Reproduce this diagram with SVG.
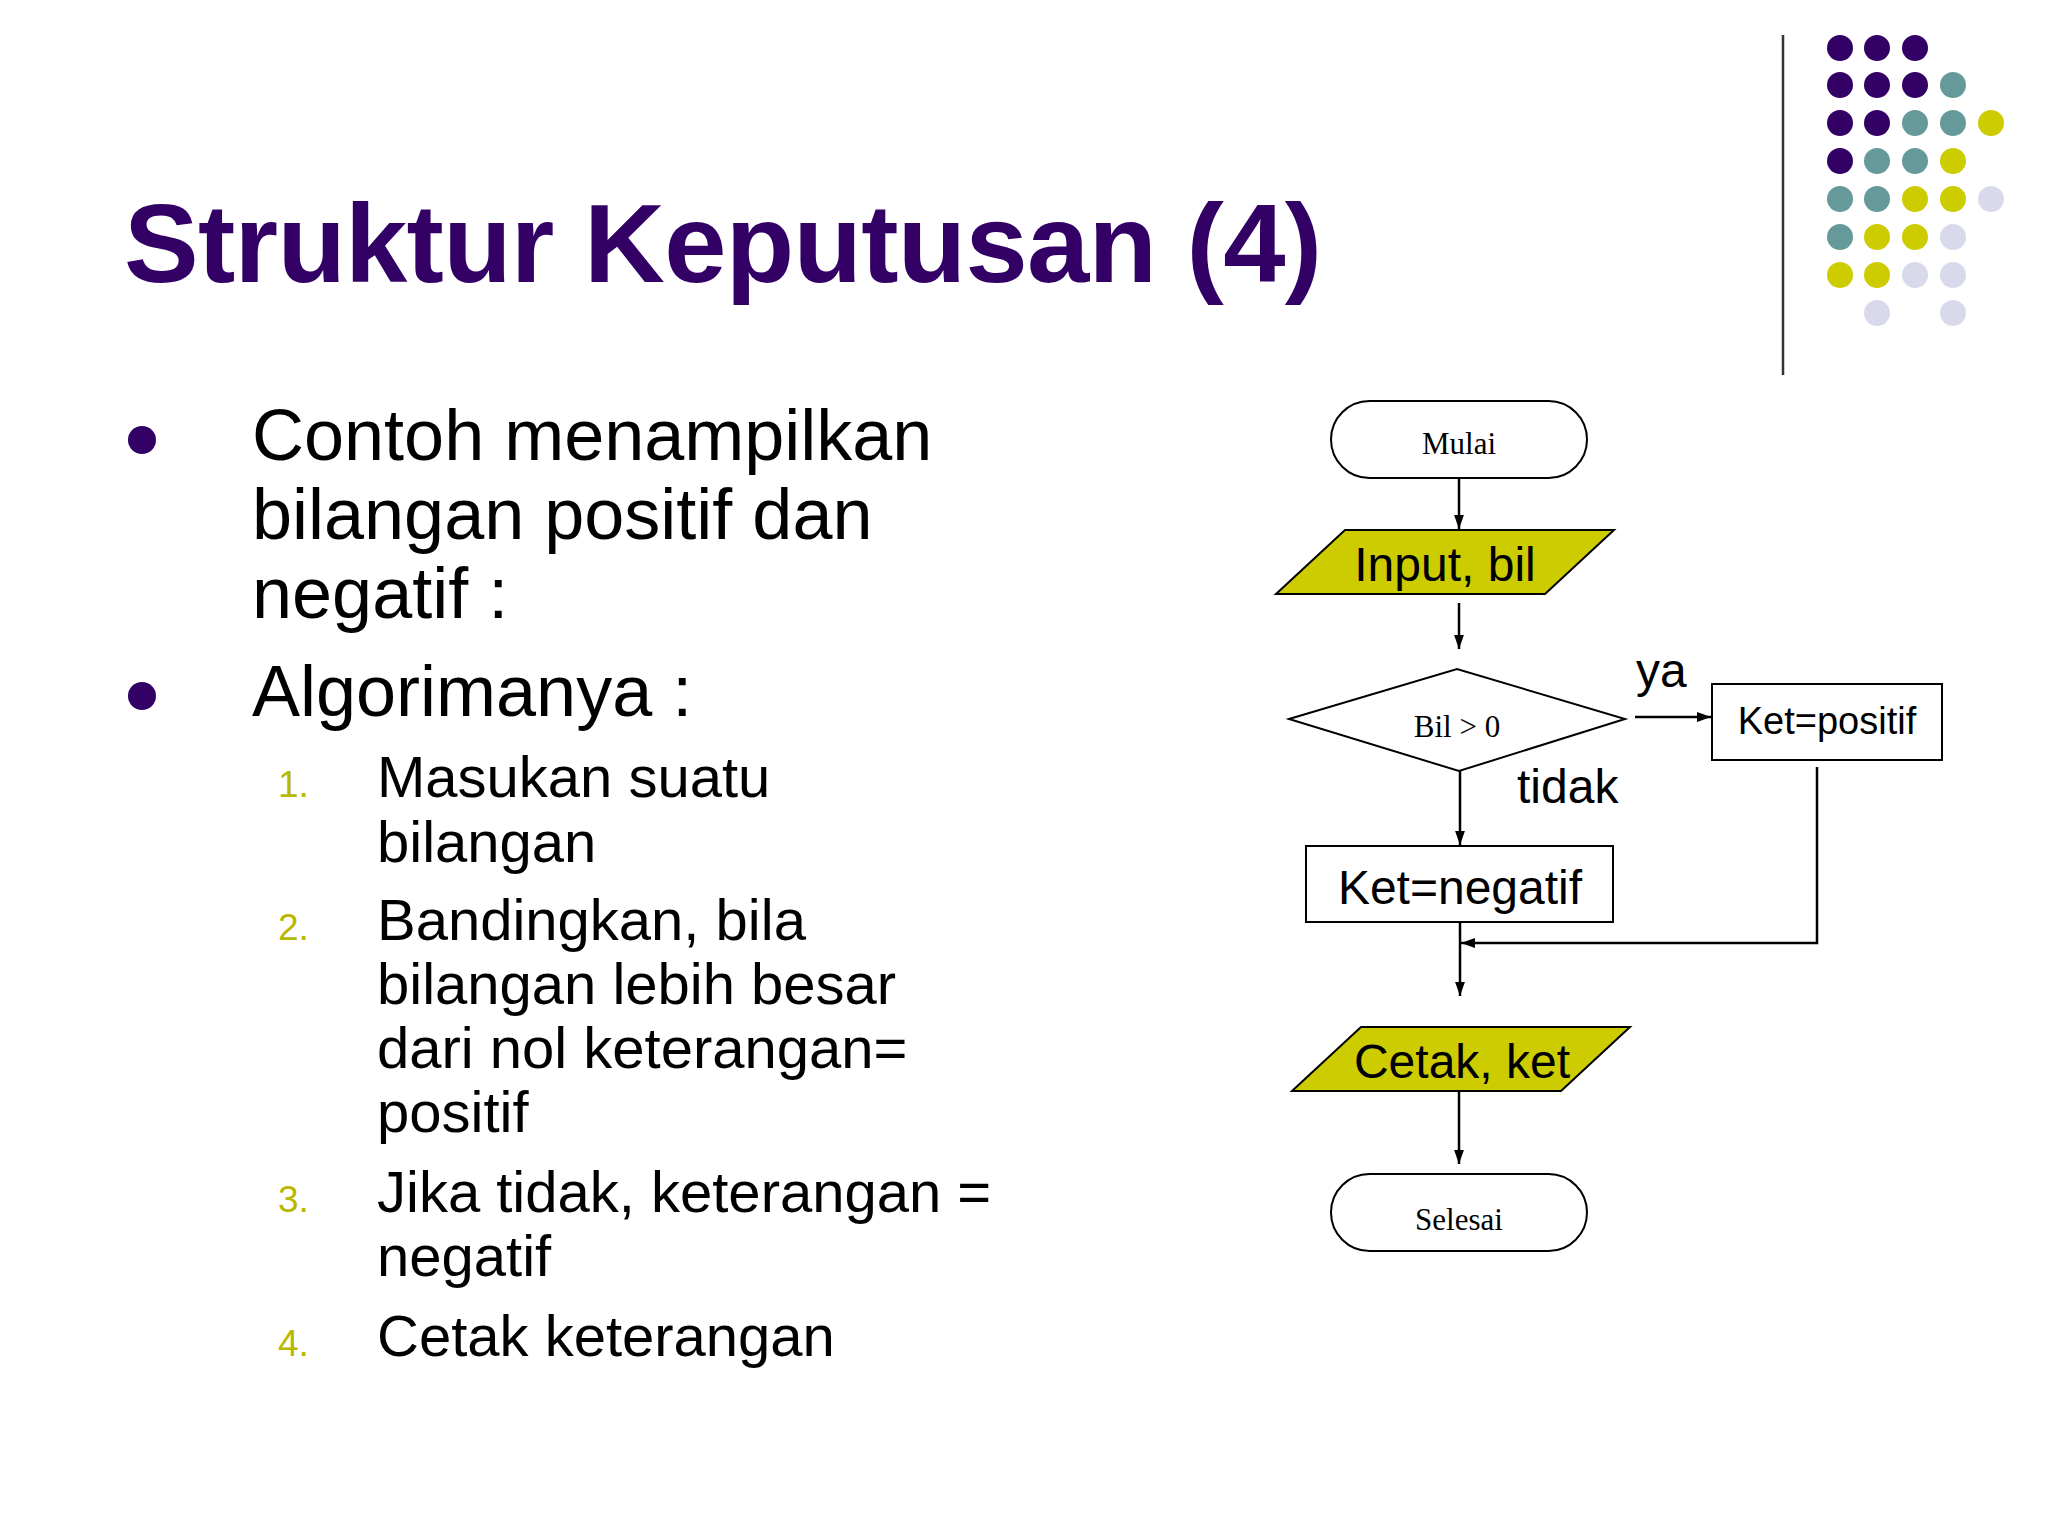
<svg xmlns="http://www.w3.org/2000/svg" width="2048" height="1536" viewBox="0 0 2048 1536">
<style>
.s{font-family:"Liberation Sans",Arial,sans-serif}
.r{font-family:"Liberation Serif","Times New Roman",serif}
.sh{fill:#fff;stroke:#000;stroke-width:2}
.io{fill:#cccc00;stroke:#000;stroke-width:2}
.ln{stroke:#000;stroke-width:2.5;fill:none}
.n{font-family:"Liberation Sans",Arial,sans-serif;font-size:37px;fill:#b8b800}
.t{font-family:"Liberation Sans",Arial,sans-serif;font-size:58px;fill:#000}
</style>
<defs><marker id="a" viewBox="0 0 10 10" refX="10" refY="5" markerWidth="6" markerHeight="6" markerUnits="userSpaceOnUse" orient="auto"><path d="M0,0L10,5L0,10z"/></marker>
<marker id="b" viewBox="0 0 10 10" refX="10" refY="5" markerWidth="14" markerHeight="14" markerUnits="userSpaceOnUse" orient="auto"><path d="M0,1.5L10,5L0,8.5z"/></marker></defs>
<rect width="2048" height="1536" fill="#fff"/>
<text class="s" x="124" y="282" font-size="112" font-weight="bold" fill="#330066" textLength="1198">Struktur Keputusan (4)</text>
<line x1="1783" y1="35" x2="1783" y2="375" stroke="#333" stroke-width="2.5"/>
<g id="dots">
<g fill="#330066"><circle cx="1840" cy="48" r="13"/><circle cx="1877" cy="48" r="13"/><circle cx="1915" cy="48" r="13"/><circle cx="1840" cy="85" r="13"/><circle cx="1877" cy="85" r="13"/><circle cx="1915" cy="85" r="13"/><circle cx="1840" cy="123" r="13"/><circle cx="1877" cy="123" r="13"/><circle cx="1840" cy="161" r="13"/></g>
<g fill="#669999"><circle cx="1953" cy="85" r="13"/><circle cx="1915" cy="123" r="13"/><circle cx="1953" cy="123" r="13"/><circle cx="1877" cy="161" r="13"/><circle cx="1915" cy="161" r="13"/><circle cx="1840" cy="199" r="13"/><circle cx="1877" cy="199" r="13"/><circle cx="1840" cy="237" r="13"/></g>
<g fill="#cccc00"><circle cx="1991" cy="123" r="13"/><circle cx="1953" cy="161" r="13"/><circle cx="1915" cy="199" r="13"/><circle cx="1953" cy="199" r="13"/><circle cx="1877" cy="237" r="13"/><circle cx="1915" cy="237" r="13"/><circle cx="1840" cy="275" r="13"/><circle cx="1877" cy="275" r="13"/></g>
<g fill="#d9d9ec"><circle cx="1991" cy="199" r="13"/><circle cx="1953" cy="237" r="13"/><circle cx="1915" cy="275" r="13"/><circle cx="1953" cy="275" r="13"/><circle cx="1877" cy="313" r="13"/><circle cx="1953" cy="313" r="13"/></g>
</g>
<g id="text">
<circle cx="142" cy="440" r="14" fill="#330066"/><circle cx="142" cy="696" r="14" fill="#330066"/>
<text class="s" font-size="72" x="252" y="460">Contoh menampilkan</text>
<text class="s" font-size="72" x="252" y="539">bilangan positif dan</text>
<text class="s" font-size="72" x="252" y="618">negatif :</text>
<text class="s" font-size="72" x="252" y="716">Algorimanya :</text>
<text class="n" x="278" y="797">1.</text><text class="t" x="377" y="797">Masukan suatu</text><text class="t" x="377" y="862">bilangan</text>
<text class="n" x="278" y="940">2.</text><text class="t" x="377" y="940">Bandingkan, bila</text><text class="t" x="377" y="1004">bilangan lebih besar</text><text class="t" x="377" y="1068">dari nol keterangan=</text><text class="t" x="377" y="1132">positif</text>
<text class="n" x="278" y="1212">3.</text><text class="t" x="377" y="1212">Jika tidak, keterangan =</text><text class="t" x="377" y="1276">negatif</text>
<text class="n" x="278" y="1356">4.</text><text class="t" x="377" y="1356">Cetak keterangan</text>
</g>
<g id="mulai"><rect class="sh" x="1331" y="401" width="256" height="77" rx="38.5"/><text class="r" x="1459" y="454" font-size="31" text-anchor="middle">Mulai</text></g>
<g id="input"><polygon class="io" points="1276,594 1345,530 1614,530 1545,594"/><text class="s" x="1445" y="581" font-size="48" text-anchor="middle">Input, bil</text></g>
<g id="decision"><polygon class="sh" points="1289,719 1457,669 1625,719 1459,771"/><text class="r" x="1457" y="737" font-size="31" text-anchor="middle">Bil &gt; 0</text></g>
<g id="positif"><rect class="sh" x="1712" y="684" width="230" height="76"/><text class="s" x="1827" y="734" font-size="38" text-anchor="middle">Ket=positif</text></g>
<g id="negatif"><rect class="sh" x="1306" y="846" width="307" height="76"/><text class="s" x="1460" y="904" font-size="48" text-anchor="middle">Ket=negatif</text></g>
<g id="cetak"><polygon class="io" points="1292,1091 1361,1027 1630,1027 1561,1091"/><text class="s" x="1462" y="1078" font-size="48" text-anchor="middle">Cetak, ket</text></g>
<g id="selesai"><rect class="sh" x="1331" y="1174" width="256" height="77" rx="38.5"/><text class="r" x="1459" y="1230" font-size="31" text-anchor="middle">Selesai</text></g>
<g id="connectors">
<line class="ln" x1="1459" y1="478" x2="1459" y2="529" marker-end="url(#b)"/>
<line class="ln" x1="1459" y1="603" x2="1459" y2="649" marker-end="url(#b)"/>
<line class="ln" x1="1635" y1="717" x2="1711" y2="717" marker-end="url(#b)"/>
<line class="ln" x1="1460" y1="771" x2="1460" y2="845" marker-end="url(#b)"/>
<polyline class="ln" points="1817,767 1817,943 1461,943" marker-end="url(#b)"/>
<line class="ln" x1="1460" y1="922" x2="1460" y2="996" marker-end="url(#b)"/>
<line class="ln" x1="1459" y1="1091" x2="1459" y2="1164" marker-end="url(#b)"/>
<text class="s" x="1636" y="687" font-size="48">ya</text>
<text class="s" x="1517" y="803" font-size="48">tidak</text>
</g>
</svg>
